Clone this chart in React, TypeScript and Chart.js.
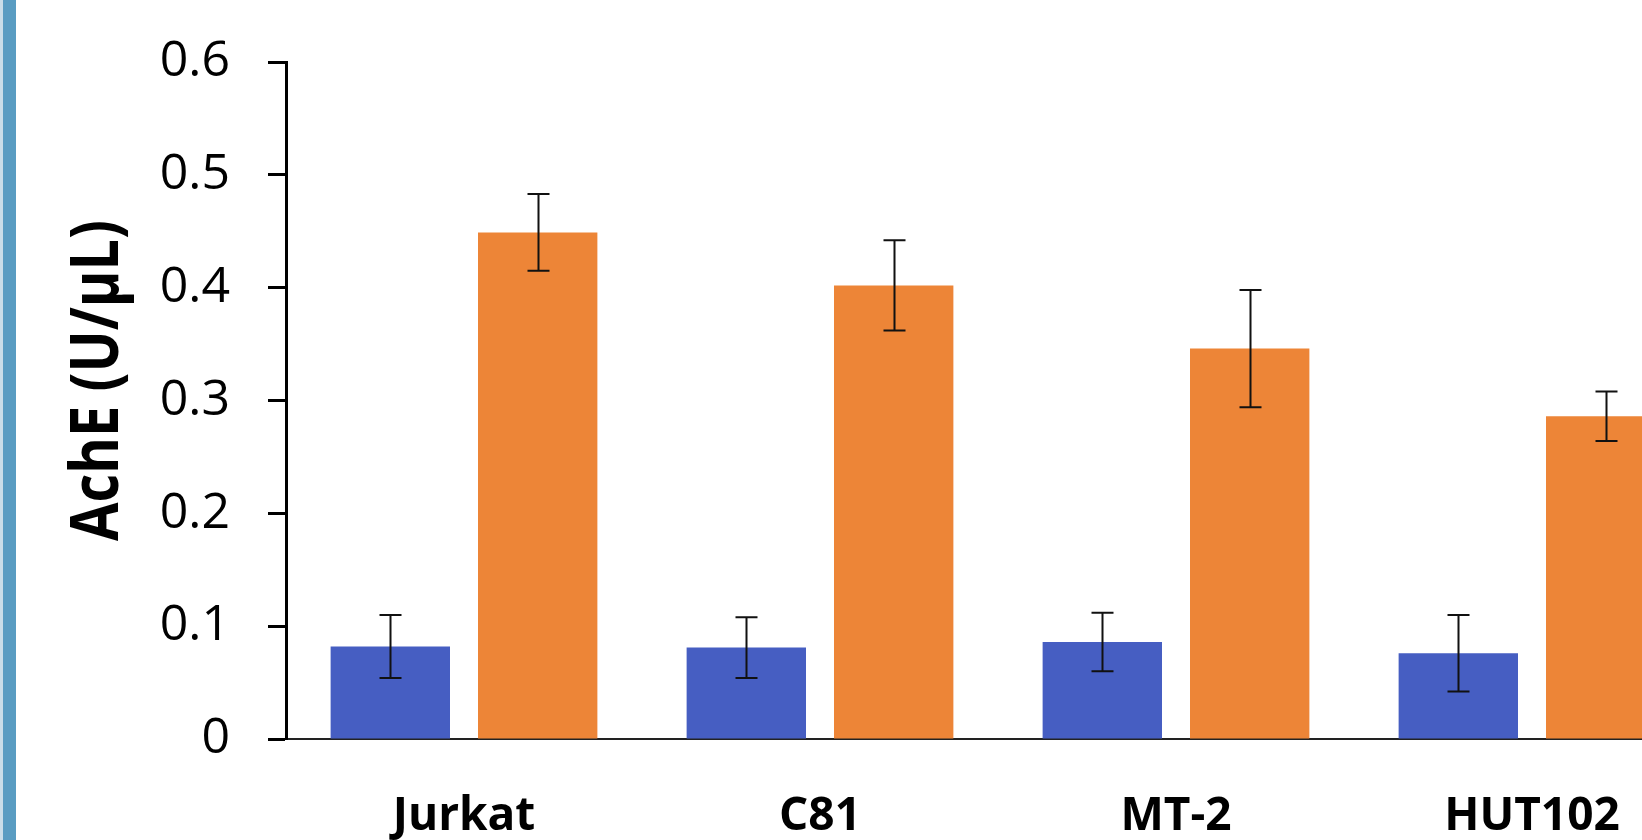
import React, { useEffect, useRef } from "react";
import { Chart, registerables } from "chart.js";

Chart.register(...registerables);

const categories = ["Jurkat", "C81", "MT-2", "HUT102"];
const controlValues = [0.082, 0.081, 0.086, 0.076];
const controlErrors = [0.028, 0.027, 0.026, 0.034];
const treatedValues = [0.449, 0.402, 0.346, 0.286];
const treatedErrors = [0.034, 0.04, 0.052, 0.022];
const yTicks = [0, 0.1, 0.2, 0.3, 0.4, 0.5, 0.6];
const yTitle = "AchE (U/μL)";

const errorLists = [controlErrors, treatedErrors];

const errorBarPlugin = {
  id: "errorBars",
  afterDatasetsDraw(chart: any) {
    const ctx = chart.ctx;
    const yScale = chart.scales.y;
    chart.data.datasets.forEach((ds: any, i: number) => {
      const meta = chart.getDatasetMeta(i);
      const errs = errorLists[i];
      meta.data.forEach((bar: any, j: number) => {
        const v = ds.data[j];
        const e = errs[j];
        const x = Math.round(bar.x) + 0.5;
        const top = yScale.getPixelForValue(v + e);
        const bot = yScale.getPixelForValue(v - e);
        const cap = 11;
        ctx.save();
        ctx.strokeStyle = "#111";
        ctx.lineWidth = 2;
        ctx.beginPath();
        ctx.moveTo(x, top);
        ctx.lineTo(x, bot);
        ctx.moveTo(x - cap, top);
        ctx.lineTo(x + cap, top);
        ctx.moveTo(x - cap, bot);
        ctx.lineTo(x + cap, bot);
        ctx.stroke();
        ctx.restore();
      });
    });
  },
};

const yTitlePlugin = {
  id: "yTitleText",
  afterDraw(chart: any) {
    const ctx = chart.ctx;
    const area = chart.chartArea;
    const cx = 99;
    const cy = (area.top + area.bottom) / 2 - 20;
    ctx.save();
    ctx.translate(cx, cy);
    ctx.rotate(-Math.PI / 2);
    ctx.scale(0.845, 1);
    ctx.font = "bold 66px 'Open Sans'";
    ctx.fillStyle = "#000";
    ctx.textAlign = "center";
    ctx.textBaseline = "middle";
    ctx.fillText(yTitle, 0, 0);
    ctx.restore();
  },
};

export default function App() {
  const canvasRef = useRef<HTMLCanvasElement | null>(null);

  useEffect(() => {
    if (!canvasRef.current) return;
    const chart = new Chart(canvasRef.current, {
      type: "bar",
      data: {
        labels: categories,
        datasets: [
          {
            label: "Control",
            data: controlValues,
            backgroundColor: "#465EC2",
            borderWidth: 0,
            categoryPercentage: 0.828,
            barPercentage: 0.81,
          },
          {
            label: "Treated",
            data: treatedValues,
            backgroundColor: "#ED8537",
            borderWidth: 0,
            categoryPercentage: 0.828,
            barPercentage: 0.81,
          },
        ],
      },
      options: {
        responsive: false,
        animation: false,
        devicePixelRatio: 1,
        layout: { padding: { top: 62, right: 10, bottom: 0, left: 0 } },
        plugins: {
          legend: { display: false },
          tooltip: { enabled: false },
        },
        scales: {
          x: {
            type: "category",
            grid: { display: false },
            border: { display: true, color: "#222", width: 2 },
            ticks: {
              color: "#000",
              padding: 42,
              font: { family: "'Open Sans'", size: 46, weight: "bold" },
              maxRotation: 0,
              autoSkip: false,
            },
            afterFit(scale: any) {
              scale.height = 101;
              scale.paddingLeft = 0;
              scale.paddingRight = 0;
            },
          },
          y: {
            min: 0,
            max: 0.6,
            afterBuildTicks(scale: any) {
              scale.ticks = yTicks.map((v) => ({ value: v }));
            },
            grid: {
              display: true,
              drawOnChartArea: false,
              drawTicks: true,
              tickLength: 18,
              tickWidth: 3,
              tickColor: "#000",
            },
            border: { display: true, color: "#000", width: 3 },
            ticks: {
              color: "#000",
              padding: 38,
              font: { family: "'Open Sans'", size: 50 },
              callback: (v: any) => String(Number(v)),
            },
            title: { display: false },
            afterFit(scale: any) {
              scale.width = 286;
              scale.paddingTop = 0;
              scale.paddingBottom = 0;
            },
          },
        },
      },
      plugins: [errorBarPlugin, yTitlePlugin],
    });
    return () => chart.destroy();
  }, []);

  return (
    <div
      style={{
        position: "fixed",
        left: 0,
        top: 0,
        width: 1642,
        height: 840,
        overflow: "hidden",
        background: "#fff",
      }}
    >
      <canvas
        ref={canvasRef}
        width={1720}
        height={840}
        style={{ position: "absolute", left: 0, top: 0, width: 1720, height: 840 }}
      />
      <div
        style={{
          position: "absolute",
          left: 0,
          top: 0,
          width: 3,
          height: 840,
          background: "#C9DDE9",
        }}
      />
      <div
        style={{
          position: "absolute",
          left: 3,
          top: 0,
          width: 13,
          height: 840,
          background: "#599CC2",
        }}
      />
    </div>
  );
}
